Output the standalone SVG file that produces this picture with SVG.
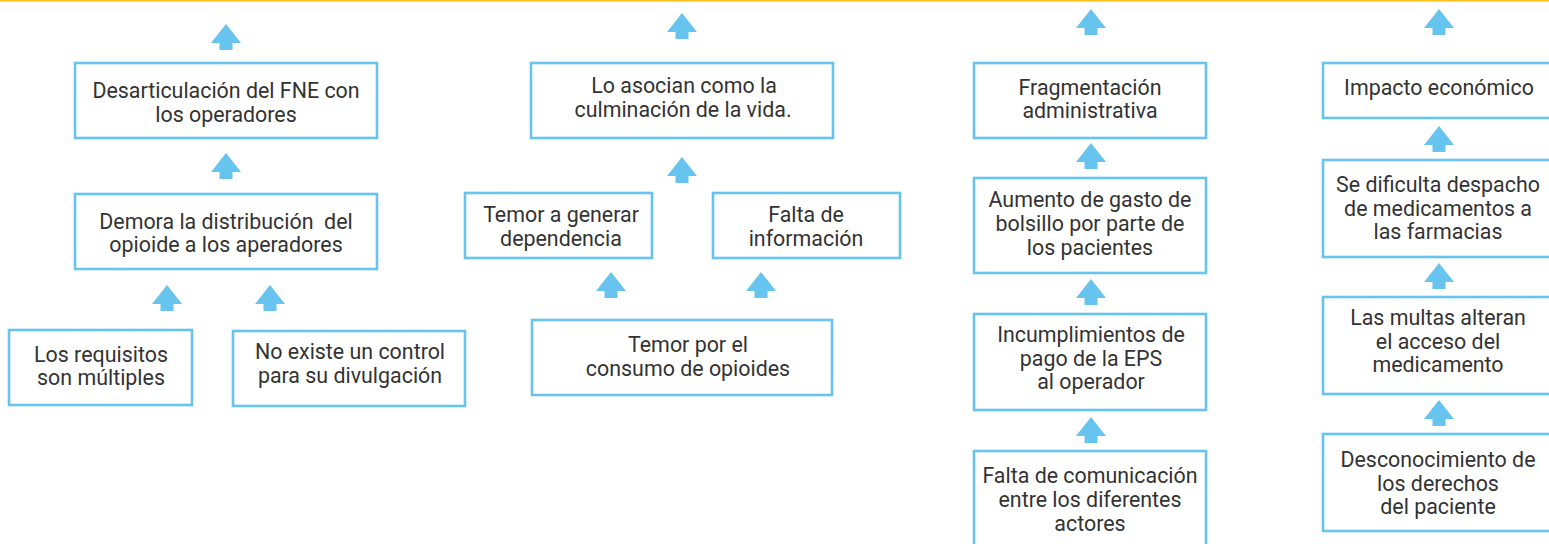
<svg xmlns="http://www.w3.org/2000/svg" xmlns:xlink="http://www.w3.org/1999/xlink" width="1549" height="544" viewBox="0 0 1549 544">
<style>
.box{fill:#fff;stroke:#66C4EE;stroke-width:2.6}
.t{font-family:Roboto,"Liberation Sans",sans-serif;font-size:21.4px;fill:#333;text-anchor:middle}
.arr{fill:#66C4EE}
</style>
<defs>
<path id="arr" d="M0 0 L15 19 H6.5 V26 H-6.5 V19 H-15 Z"/>
</defs>
<rect x="0" y="0" width="1549" height="544" fill="#fff"/>
<rect x="0" y="0" width="1549" height="1.6" fill="#F6C21B"/>
<g id="connectors" class="arr">
<use href="#arr" x="226" y="24"/>
<use href="#arr" x="226" y="153"/>
<use href="#arr" x="167" y="285"/>
<use href="#arr" x="270" y="285"/>
<use href="#arr" x="682" y="13"/>
<use href="#arr" x="682" y="157"/>
<use href="#arr" x="611" y="272"/>
<use href="#arr" x="761" y="272"/>
<use href="#arr" x="1091" y="9"/>
<use href="#arr" x="1091" y="143"/>
<use href="#arr" x="1091" y="279"/>
<use href="#arr" x="1091" y="417"/>
<use href="#arr" x="1439" y="9"/>
<use href="#arr" x="1439" y="126"/>
<use href="#arr" x="1439" y="263"/>
<use href="#arr" x="1439" y="400"/>
</g>
<g id="n1"><rect class="box" x="75" y="63" width="302" height="75"/><text class="t" x="226" y="98">Desarticulación del FNE con</text><text class="t" x="226" y="122">los operadores</text></g>
<g id="n2"><rect class="box" x="75" y="194" width="302" height="75"/><text class="t" x="226" y="229" style="white-space:pre">Demora la distribución  del</text><text class="t" x="226" y="252">opioide a los aperadores</text></g>
<g id="n3"><rect class="box" x="9" y="330" width="183" height="75"/><text class="t" x="101" y="362">Los requisitos</text><text class="t" x="101" y="385">son múltiples</text></g>
<g id="n4"><rect class="box" x="233" y="331" width="232" height="75"/><text class="t" x="350" y="359">No existe un control</text><text class="t" x="350" y="383">para su divulgación</text></g>
<g id="n5"><rect class="box" x="531" y="63" width="302" height="75"/><text class="t" x="684" y="93">Lo asocian como la</text><text class="t" x="683" y="117">culminación de la vida.</text></g>
<g id="n6"><rect class="box" x="465" y="193" width="187" height="65"/><text class="t" x="561" y="222">Temor a generar</text><text class="t" x="561" y="246">dependencia</text></g>
<g id="n7"><rect class="box" x="713" y="193" width="187" height="65"/><text class="t" x="806" y="222">Falta de</text><text class="t" x="806" y="246">información</text></g>
<g id="n8"><rect class="box" x="532" y="320" width="300" height="75"/><text class="t" x="688" y="352">Temor por el</text><text class="t" x="688" y="376">consumo de opioides</text></g>
<g id="n9"><rect class="box" x="974" y="63" width="232" height="75"/><text class="t" x="1090" y="95">Fragmentación</text><text class="t" x="1090" y="118">administrativa</text></g>
<g id="n10"><rect class="box" x="974" y="178" width="232" height="95"/><text class="t" x="1090" y="207">Aumento de gasto de</text><text class="t" x="1090" y="231">bolsillo por parte de</text><text class="t" x="1090" y="255">los pacientes</text></g>
<g id="n11"><rect class="box" x="974" y="314" width="232" height="96"/><text class="t" x="1091" y="342">Incumplimientos de</text><text class="t" x="1091" y="366">pago de la EPS</text><text class="t" x="1091" y="389">al operador</text></g>
<g id="n12"><rect class="box" x="974" y="451" width="232" height="110"/><text class="t" x="1090" y="483">Falta de comunicación</text><text class="t" x="1090" y="507">entre los diferentes</text><text class="t" x="1090" y="531">actores</text></g>
<g id="n13"><rect class="box" x="1323" y="63" width="232" height="55"/><text class="t" x="1439" y="95">Impacto económico</text></g>
<g id="n14"><rect class="box" x="1323" y="160" width="232" height="97"/><text class="t" x="1438" y="192">Se dificulta despacho</text><text class="t" x="1438" y="216">de medicamentos a</text><text class="t" x="1438" y="239">las farmacias</text></g>
<g id="n15"><rect class="box" x="1323" y="297" width="232" height="97"/><text class="t" x="1438" y="325">Las multas alteran</text><text class="t" x="1438" y="349">el acceso del</text><text class="t" x="1438" y="372">medicamento</text></g>
<g id="n16"><rect class="box" x="1323" y="434" width="232" height="97"/><text class="t" x="1438" y="467">Desconocimiento de</text><text class="t" x="1438" y="491">los derechos</text><text class="t" x="1438" y="514">del paciente</text></g>
</svg>
